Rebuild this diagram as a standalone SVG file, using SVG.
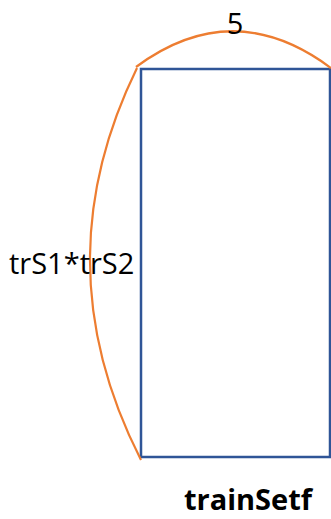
<svg xmlns="http://www.w3.org/2000/svg" width="331" height="519" viewBox="0 0 331 519">
<style>
.lbl{font-family:"Open Sans","Noto Sans","Liberation Sans",sans-serif;font-size:29px;fill:#000}
.arc{fill:none;stroke:#ED7D31;stroke-width:2.2}
</style>
<rect width="331" height="519" fill="#fff"/>
<g id="trainSetf">
<rect x="141" y="69" width="189" height="388" fill="#fff" stroke="#2F5597" stroke-width="2.5"/>
<text class="lbl" x="248" y="510" text-anchor="middle" font-weight="bold">trainSetf</text>
</g>
<g id="connectors">
<path class="arc" d="M136,67 Q233,-5 331,68"/>
<path class="arc" d="M137,68 Q41,264 141,460"/>
</g>
<g id="labels">
<text class="lbl" x="235" y="34" text-anchor="middle">5</text>
<text class="lbl" x="9" y="274">trS1*trS2</text>
</g>
</svg>
